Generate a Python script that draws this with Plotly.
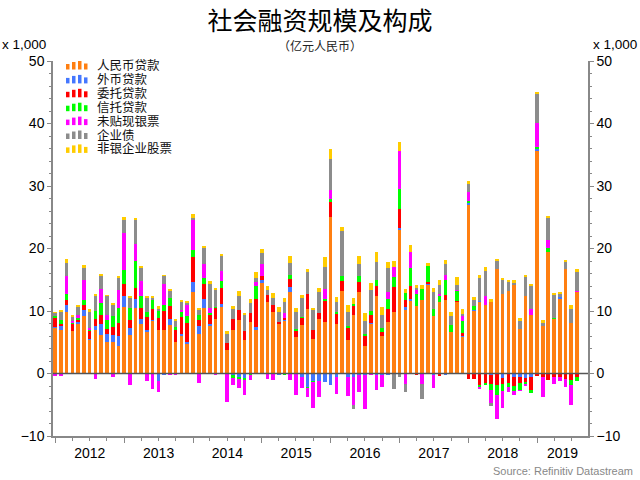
import plotly.graph_objects as go
import pandas as pd

# ---------------- data (units: x 1,000 亿元) ----------------
start_month = "2012-01-01"
end_month = "2019-08-01"

series_names = ["人民币贷款", "外币贷款", "委托贷款", "信托贷款", "未贴现银票", "企业债", "非银企业股票"]
series_colors = ["#FF7F11", "#4477FF", "#FF0000", "#00FF00", "#FF00FF", "#8C8C8C", "#FFCC00"]

rmb_loans = [
    7.4, 7.0, 9.9, 6.8, 8.0, 9.2, 5.4, 6.9, 6.1, 5.0, 5.1, 4.4,            # 2012
    10.6, 6.1, 10.5, 7.85, 6.6, 8.5, 6.9, 7.0, 7.7, 5.0, 6.1, 4.8,        # 2013
    13.0, 6.4, 10.45, 7.65, 8.7, 10.7, 3.7, 6.9, 8.5, 5.4, 8.3, 6.9,      # 2014
    14.6, 11.4, 9.8, 7.95, 8.4, 13.1, 5.85, 7.7, 10.25, 5.45, 8.75, 8.3,  # 2015
    25.1, 7.95, 13.15, 5.4, 9.3, 13.1, 4.4, 7.95, 12.45, 5.95, 8.3, 9.9,  # 2016
    23.1, 10.2, 11.6, 10.8, 11.7, 14.3, 9.15, 11.45, 11.8, 6.65, 11.45, 5.85,  # 2017
    27.0, 10.0, 11.45, 10.9, 11.5, 16.75, 12.8, 13.15, 14.2, 7.1, 12.35, 9.35,  # 2018
    35.6, 7.65, 19.5, 8.8, 12.0, 16.75, 8.1, 13.15,                       # 2019
]
fx_loans = [
    0.05, 0.6, 1.0, 0.05, 0.3, 1.0, 0.1, 0.75, 1.75, 1.3, 1.0, 1.6,
    1.8, 1.2, 1.5, 0.8, 0.4, 0.1, -1.2, -0.3, 0.95, 0.0, 0.2, 0.3,
    1.65, 1.2, 1.4, 0.25, 0.0, 0.35, 0.0, -0.2, -0.6, -0.8, 0.0, 0.5,
    0.3, 0.0, 0.0, -0.3, 0.2, 0.7, 0.0, -0.6, -2.2, -1.2, -1.2, -1.3,
    -1.8, -0.5, 0.0, -0.6, -0.5, -0.3, -0.3, 0.1, -0.2, -0.2, -0.3, -0.15,
    0.15, 0.4, 0.25, 0.0, 0.0, 0.1, -0.3, -0.15, -0.2, 0.0, 0.0, 0.1,
    0.3, 0.2, 0.1, 0.0, -0.2, -0.1, -0.65, 0.0, -0.6, -0.6, -0.7, -0.5,
    0.25, 0.0, 0.0, 0.0, 0.2, 0.0, 0.0, 0.0,
]
entrusted_loans = [
    1.5, 0.4, 0.9, 1.1, 0.3, 0.7, 1.4, 1.0, 1.5, 0.9, 1.3, 2.1,
    2.0, 1.3, 1.75, 1.85, 2.0, 1.8, 2.0, 3.0, 2.2, 2.0, 2.7, 3.0,
    4.0, 0.95, 2.45, 1.45, 1.9, 2.6, 1.25, 1.75, 1.6, 1.45, 1.35, 4.6,
    0.7, 1.2, 1.15, 0.35, 0.25, 1.3, 1.1, 1.2, 2.5, 1.45, 0.9, 3.3,
    2.35, 1.7, 1.6, 1.85, 1.6, 1.6, 1.65, 1.3, 1.6, 0.75, 2.1, 4.0,
    3.1, 1.2, 2.1, -0.15, 0.0, 0.2, 0.0, -0.15, 0.7, 0.0, 0.1, 0.5,
    -0.8, -0.9, -1.8, -1.6, -1.5, -1.8, -1.05, -1.55, -1.4, -0.9, -0.7, -2.1,
    -0.35, -0.5, -1.1, -0.5, -0.6, -0.8, -1.05, -0.5,
]
trust_loans = [
    0.25, 0.5, 0.95, 0.2, 0.4, 0.9, 0.2, 1.3, 2.0, 1.4, 1.8, 2.4,
    2.2, 1.9, 4.2, 1.95, 0.9, 1.3, 1.05, 1.0, 1.2, 0.4, 0.9, 1.05,
    1.05, 0.75, 1.0, 0.4, 0.1, 1.15, -0.1, -0.5, -0.3, -0.3, -0.2, 2.0,
    0.0, 0.0, 0.0, 0.0, -0.3, 0.6, 0.1, 0.2, -0.15, -0.2, 0.0, 0.3,
    0.55, 0.25, 0.8, 0.35, 0.15, 0.85, 0.2, 0.7, 0.95, 0.6, 1.5, 1.6,
    3.2, 1.05, 3.0, 2.0, 1.75, 2.65, 1.2, 1.05, 2.4, 1.05, 1.7, 2.0,
    0.35, 0.6, -0.4, -0.15, -0.9, -1.5, -1.05, -0.55, -0.8, -1.2, -0.4, -0.5,
    0.45, 0.0, 0.55, 0.1, 0.0, 0.0, -0.75, -0.7,
]
bank_acceptances = [
    -0.4, -0.4, 2.9, 0.3, 0.3, 3.2, 0.25, -0.95, 2.1, 0.8, -0.5, 2.8,
    5.9, -1.9, 2.75, 2.3, -1.2, -2.5, -1.7, 3.3, -0.2, -0.3, 0.2, 1.8,
    4.8, -1.5, 2.3, 0.75, -0.3, 1.55, -4.4, -1.1, -1.4, -2.3, -0.9, 0.6,
    1.9, -0.9, -1.0, 0.0, 0.9, -1.1, -3.4, -1.7, -1.4, -4.1, -2.5, 1.65,
    1.3, -2.7, 0.0, -3.0, -4.6, -2.7, -5.3, -0.3, -2.5, -2.0, 1.15, 1.6,
    6.0, -1.6, 2.5, 0.5, -1.6, 0.0, -2.0, 0.2, 0.85, 0.0, 0.1, 0.9,
    1.35, 0.0, -0.3, 1.45, -2.1, -3.8, -2.8, -0.8, -0.6, -0.1, -0.2, 0.95,
    3.8, -3.3, 1.3, -1.1, -0.6, -1.3, -3.3, 0.1,
]
corporate_bonds = [
    0.5, 1.4, 2.0, 0.6, 1.4, 1.9, 2.6, 2.6, 2.3, 3.0, 1.85, 2.0,
    2.2, 1.6, 4.0, 2.1, 2.2, 0.4, 0.5, 1.3, 1.3, 1.0, 1.4, 0.4,
    0.4, 0.95, 2.45, 3.75, 2.8, 2.5, 1.4, 1.6, 2.35, 2.45, 1.7, 0.75,
    1.8, 0.75, 1.2, 1.6, 1.75, 2.05, 2.8, 3.0, 3.55, 3.3, 3.45, 3.5,
    5.1, 1.5, 7.25, 2.3, -0.6, 2.05, 2.2, 3.35, 2.9, 2.1, 3.9, -2.4,
    -0.5, -1.3, 0.0, 0.5, -2.55, 0.0, 2.75, 1.45, 1.7, 1.5, 0.8, 0.1,
    1.35, 1.0, 3.7, 4.1, -0.45, 1.3, 2.25, 1.5, 0.4, 1.45, 3.1, 3.8,
    4.65, 0.5, 3.55, 3.75, 0.5, 1.2, 2.2, 2.95,
]
equity = [
    0.1, 0.3, 0.7, 0.3, 0.3, 0.4, 0.3, 0.2, 0.2, 0.15, 0.15, 0.3,
    0.3, 0.2, 0.25, 0.35, 0.3, 0.25, 0.3, 0.15, 0.15, 0.2, 0.15, 0.3,
    0.7, 0.3, 0.35, 0.5, 0.25, 0.35, 0.4, 0.6, 0.8, 0.4, 0.6, 0.9,
    0.7, 0.6, 0.7, 0.7, 0.6, 1.1, 0.7, 0.5, 0.5, 0.15, 0.65, 1.6,
    1.6, 0.9, 0.65, 1.0, 1.05, 1.25, 1.2, 1.1, 1.5, 1.2, 0.95, 0.95,
    1.45, 0.7, 1.05, 0.3, 0.65, 0.5, 0.6, 0.8, 0.65, 0.65, 1.3, 0.9,
    0.5, 0.5, 0.45, 0.6, 0.35, 0.3, 0.3, 0.35, 0.3, 0.3, 0.3, 0.15,
    0.3, 0.35, 0.15, 0.3, 0.35, 0.25, 0.6, 0.45,
]

y_ticks = [-10, 0, 10, 20, 30, 40, 50]
year_labels = ["2012", "2013", "2014", "2015", "2016", "2017", "2018", "2019"]

# ---------------- figure ----------------
months = pd.date_range(start_month, end_month, freq="MS")
all_series = [rmb_loans, fx_loans, entrusted_loans, trust_loans,
              bank_acceptances, corporate_bonds, equity]

x_start, x_end = pd.Timestamp("2011-12-20"), pd.Timestamp("2019-09-28")
# year labels centred on the visible part of each year
label_pos = []
for yl in year_labels:
    a = max(pd.Timestamp(f"{yl}-01-01"), x_start)
    b = min(pd.Timestamp(f"{int(yl) + 1}-01-01"), x_end)
    label_pos.append(a + (b - a) / 2)

W, H = 640, 480
L, R, T, B = 53, 52, 61, 44
DAY_MS = 86400000

fig = go.Figure()
for name, vals, col in zip(series_names, all_series, series_colors):
    fig.add_trace(go.Bar(
        x=months, y=vals, name=name,
        marker=dict(color=col, line=dict(width=0)),
        width=19 * DAY_MS, showlegend=False,
    ))
# helper so the right-hand axis and the label axis are drawn
fig.add_trace(go.Scatter(x=[months[0]], y=[None], xaxis="x2", yaxis="y2",
                         showlegend=False, hoverinfo="skip"))

axis_gray = "#888888"
tick_font = dict(family="Liberation Sans, Arial, sans-serif", size=14, color="black")
xr = [x_start.strftime("%Y-%m-%d"), x_end.strftime("%Y-%m-%d")]

fig.update_layout(
    width=W, height=H,
    margin=dict(l=L, r=R, t=T, b=B, pad=0),
    paper_bgcolor="white", plot_bgcolor="white",
    barmode="relative", bargap=0,
    font=tick_font,
    title=dict(text="社会融资规模及构成",
               font=dict(family="Noto Sans CJK SC", size=25, color="black"),
               x=0.5, xanchor="center", xref="container",
               y=1 - 21 / H, yanchor="middle", yref="container"),
    xaxis=dict(
        type="date", range=xr,
        tick0="2012-01-01", dtick="M12", showticklabels=False,
        ticks="outside", ticklen=5, tickcolor=axis_gray, tickwidth=1,
        showline=True, linecolor=axis_gray, linewidth=1.5,
        showgrid=False, zeroline=False,
        minor=dict(dtick="M3", ticks="outside", ticklen=3, tickcolor=axis_gray,
                   showgrid=False),
    ),
    xaxis2=dict(
        type="date", range=xr, overlaying="x", side="bottom", anchor="y",
        tickvals=label_pos, ticktext=year_labels,
        ticks="outside", ticklen=4, tickcolor="rgba(0,0,0,0)",
        showline=False, showgrid=False, zeroline=False, tickfont=tick_font,
    ),
    yaxis=dict(
        range=[-10, 50], tickvals=y_ticks,
        ticks="outside", ticklen=4, tickcolor=axis_gray,
        showline=True, linecolor=axis_gray, linewidth=1.5,
        showgrid=False, zeroline=False, tickfont=tick_font,
        minor=dict(dtick=2, ticks="outside", ticklen=2.5, tickcolor=axis_gray,
                   showgrid=False),
    ),
    yaxis2=dict(
        overlaying="y", side="right", anchor="x", range=[-10, 50], tickvals=y_ticks,
        ticks="outside", ticklen=4, tickcolor=axis_gray,
        showline=True, linecolor=axis_gray, linewidth=1.5,
        showgrid=False, zeroline=False, tickfont=tick_font,
        minor=dict(dtick=2, ticks="outside", ticklen=2.5, tickcolor=axis_gray,
                   showgrid=False),
    ),
)

# zero line above bars
fig.add_shape(type="line", xref="paper", x0=0, x1=1, yref="y", y0=0, y1=0,
              line=dict(color="#555555", width=1.5), layer="above")

pw, ph = W - L - R, H - T - B
def px2paper(px, py):
    return (px - L) / pw, (H - B - py) / ph

# texts
sx, sy = px2paper(320, 45)
fig.add_annotation(text="（亿元人民币）", xref="paper", x=sx, yref="paper", y=sy,
                   showarrow=False,
                   font=dict(family="Noto Sans CJK SC", size=12, color="#222222"),
                   xanchor="center", yanchor="middle")
ux_font = dict(family="Liberation Sans, Arial, sans-serif", size=13.5, color="black")
lx, ly = px2paper(1, 44)
fig.add_annotation(text="x 1,000", xref="paper", x=lx, xanchor="left",
                   yref="paper", y=ly, yanchor="middle", showarrow=False,
                   font=ux_font, borderpad=0)
rx, ry = px2paper(638, 44)
fig.add_annotation(text="x 1,000", xref="paper", x=rx, xanchor="right",
                   yref="paper", y=ry, yanchor="middle", showarrow=False,
                   font=ux_font, borderpad=0)
srcx, srcy = px2paper(634, 471)
fig.add_annotation(text="Source: Refinitiv Datastream", xref="paper", x=srcx,
                   xanchor="right", yref="paper", y=srcy, yanchor="middle",
                   showarrow=False, borderpad=0,
                   font=dict(family="Liberation Sans, Arial", size=11, color="#888888"))

# custom legend: mini-bar icon + text
icon_bars = [(66, 5.5), (72, 7.5), (78, 8.5), (84, 6.0)]  # (left px, height px)
for i, (name, col) in enumerate(zip(series_names, series_colors)):
    cy = 64.5 + i * 13.9
    base = cy + 5
    for bx, bh in icon_bars:
        x0, y0 = px2paper(bx, base)
        x1, y1 = px2paper(bx + 3.5, base - bh)
        fig.add_shape(type="rect", xref="paper", yref="paper",
                      x0=x0, x1=x1, y0=y0, y1=y1,
                      fillcolor=col, line=dict(width=0), layer="above")
    tx, ty = px2paper(96, cy)
    fig.add_annotation(text=name, xref="paper", yref="paper", x=tx, y=ty,
                       xanchor="left", yanchor="middle", showarrow=False,
                       borderpad=0,
                       font=dict(family="Noto Sans CJK SC", size=12.5, color="#111111"))

fig.write_html("out.html")
